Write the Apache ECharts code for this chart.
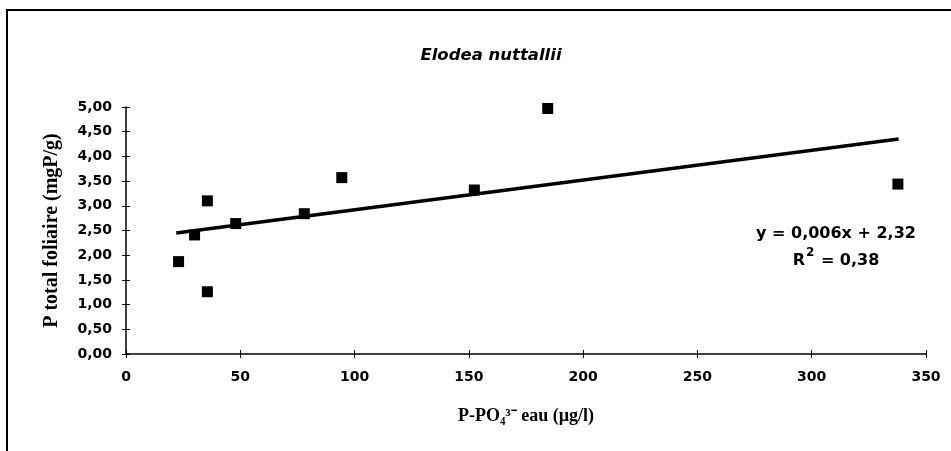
<!DOCTYPE html>
<html>
<head>
<meta charset="utf-8">
<script src="https://cdn.jsdelivr.net/npm/echarts@6/dist/echarts.min.js"></script>
<style>
  html, body { margin: 0; padding: 0; background: #fff; }
  #main { width: 951px; height: 451px; }
</style>
</head>
<body>
<div id="main"></div>
<script>
// données
const poEau = [23, 30, 35.6, 35.6, 48, 78, 94.4, 152.4, 184.5, 337.7]
const pFoliaire = [1.87, 2.41, 3.10, 1.26, 2.64, 2.84, 3.57, 3.32, 4.97, 3.44]
// droite de régression (extrémités)
const trendX = [22, 338]
const trendY = [2.45, 4.35]
const titre = 'Elodea nuttallii'
const equation = 'y = 0,006x + 2,32'
const r2 = '0,38'

let chart = echarts.init(document.getElementById('main'), null, { renderer: 'canvas' })

const labelFont = { fontFamily: 'DejaVu Sans', fontWeight: 'bold', fontSize: 14, color: '#000' }

function getOption() {
  let pts = poEau.map((x, i) => [x, pFoliaire[i]])
  let trend = trendX.map((x, i) => [x, trendY[i]])
  return {
    animation: false,
    backgroundColor: '#fff',
    title: {
      text: titre,
      left: 486,
      top: 42,
      textAlign: 'center',
      textStyle: { fontFamily: 'DejaVu Sans', fontStyle: 'italic', fontWeight: 'bold', fontSize: 16.5, color: '#000' }
    },
    grid: { left: 126, right: 25, top: 107, bottom: 97 },
    xAxis: [{
      type: 'value', min: 0, max: 350, interval: 50,
      name: 'P-PO₄³⁻ eau (µg/l)', nameLocation: 'middle', nameGap: 53,
      nameTextStyle: { fontFamily: 'Liberation Serif', fontWeight: 'bold', fontSize: 18, color: '#000' },
      axisLine: { onZero: false, lineStyle: { color: '#000', width: 1.5 } },
      axisTick: { length: 4, lineStyle: { color: '#000', width: 1 } },
      axisLabel: Object.assign({ margin: 16 }, labelFont),
      splitLine: { show: false }
    }, {
      type: 'value', min: 0, max: 350, interval: 50, position: 'bottom',
      axisLine: { show: false },
      axisTick: { inside: true, length: 4, lineStyle: { color: '#000', width: 1 } },
      axisLabel: { show: false },
      splitLine: { show: false }
    }],
    yAxis: [{
      type: 'value', min: 0, max: 5, interval: 0.5,
      name: 'P total foliaire (mgP/g)', nameLocation: 'middle', nameGap: 64, nameRotate: 90,
      nameTextStyle: { fontFamily: 'Liberation Serif', fontWeight: 'bold', fontSize: 20, color: '#000' },
      axisLine: { show: true, onZero: false, lineStyle: { color: '#000', width: 1.5 } },
      axisTick: { show: true, length: 4, lineStyle: { color: '#000', width: 1 } },
      axisLabel: Object.assign({ margin: 14, formatter: v => v.toFixed(2).replace('.', ',') }, labelFont),
      splitLine: { show: false }
    }, {
      type: 'value', min: 0, max: 5, interval: 0.5, position: 'left',
      axisLine: { show: false },
      axisTick: { show: true, inside: true, length: 4, lineStyle: { color: '#000', width: 1 } },
      axisLabel: { show: false },
      splitLine: { show: false }
    }],
    graphic: [{
      type: 'rect',
      shape: { x: 7, y: 10, width: 960, height: 460 },
      style: { fill: 'none', stroke: '#000', lineWidth: 2 },
      silent: true
    }, {
      type: 'text',
      x: 836, y: 247,
      style: {
        text: equation + '\n{n|R}{s|2}{n| = ' + r2 + '}',
        align: 'center', verticalAlign: 'middle',
        fontFamily: 'DejaVu Sans', fontWeight: 'bold', fontSize: 16, fill: '#000',
        lineHeight: 27,
        rich: {
          n: { fontFamily: 'DejaVu Sans', fontWeight: 'bold', fontSize: 16, fill: '#000', lineHeight: 27 },
          s: { fontFamily: 'DejaVu Sans', fontWeight: 'bold', fontSize: 12, fill: '#000', verticalAlign: 'top', padding: [0, 1, 8, 1], lineHeight: 27 }
        }
      }
    }],
    series: [{
      type: 'line',
      data: trend,
      xAxisIndex: 0, yAxisIndex: 0,
      showSymbol: false,
      lineStyle: { color: '#000', width: 3.5 },
      z: 2
    }, {
      type: 'scatter',
      data: pts,
      xAxisIndex: 0, yAxisIndex: 0,
      symbol: 'rect',
      symbolSize: 11,
      itemStyle: { color: '#000', opacity: 1 },
      z: 3
    }]
  }
}

chart.setOption(getOption())
</script>
</body>
</html>
